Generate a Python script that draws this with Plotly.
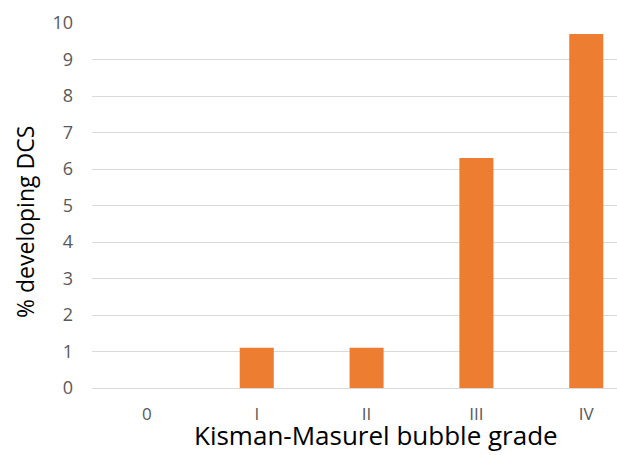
import plotly.graph_objects as go

categories = ["0", "I", "II", "III", "IV"]
values = [0, 1.1, 1.1, 6.3, 9.7]
y_ticks = list(range(0, 11))

fig = go.Figure()
fig.add_trace(go.Bar(
    x=categories, y=values, width=0.31,
    marker=dict(color="#ED7D31", line=dict(width=0)),
))

W, H = 617, 455
L, R, T, B = 92, 0, 23, 67

fig.update_layout(
    width=W, height=H,
    margin=dict(l=L, r=R, t=T, b=B, autoexpand=False),
    plot_bgcolor="white", paper_bgcolor="white",
    showlegend=False,
    font=dict(family="Open Sans", color="#595959"),
    xaxis=dict(
        type="category",
        range=[-0.5, 4.28],
        automargin=False,
        showgrid=False, zeroline=False, showline=False,
        tickfont=dict(size=17, color="#595959"),
        ticklabelstandoff=14,
    ),
    yaxis=dict(
        range=[0, 10],
        tickvals=y_ticks,
        automargin=False,
        showgrid=True, gridcolor="#D9D9D9", gridwidth=1,
        zeroline=True, zerolinecolor="#D9D9D9", zerolinewidth=1,
        showline=False,
        tickfont=dict(size=18, color="#595959"),
        ticklabelstandoff=18,
    ),
)

ph = H - T - B
pw = W - L - R
fig.add_annotation(
    text="% developing DCS", xref="paper", yref="paper",
    x=(25 - L) / pw, y=(H - B - 222) / ph,
    textangle=-90, showarrow=False,
    font=dict(family="Open Sans", size=23, color="black"),
    xanchor="center", yanchor="middle",
)
fig.add_annotation(
    text="Kisman-Masurel bubble grade", xref="paper", yref="paper",
    x=(376 - L) / pw, y=(H - B - 455) / ph,
    showarrow=False,
    font=dict(family="Open Sans", size=26, color="black"),
    xanchor="center", yanchor="bottom",
)

fig.write_html(
    "out.html",
    config={"displayModeBar": False},
    post_script="document.body.style.margin='0';document.body.style.overflow='hidden';",
)
